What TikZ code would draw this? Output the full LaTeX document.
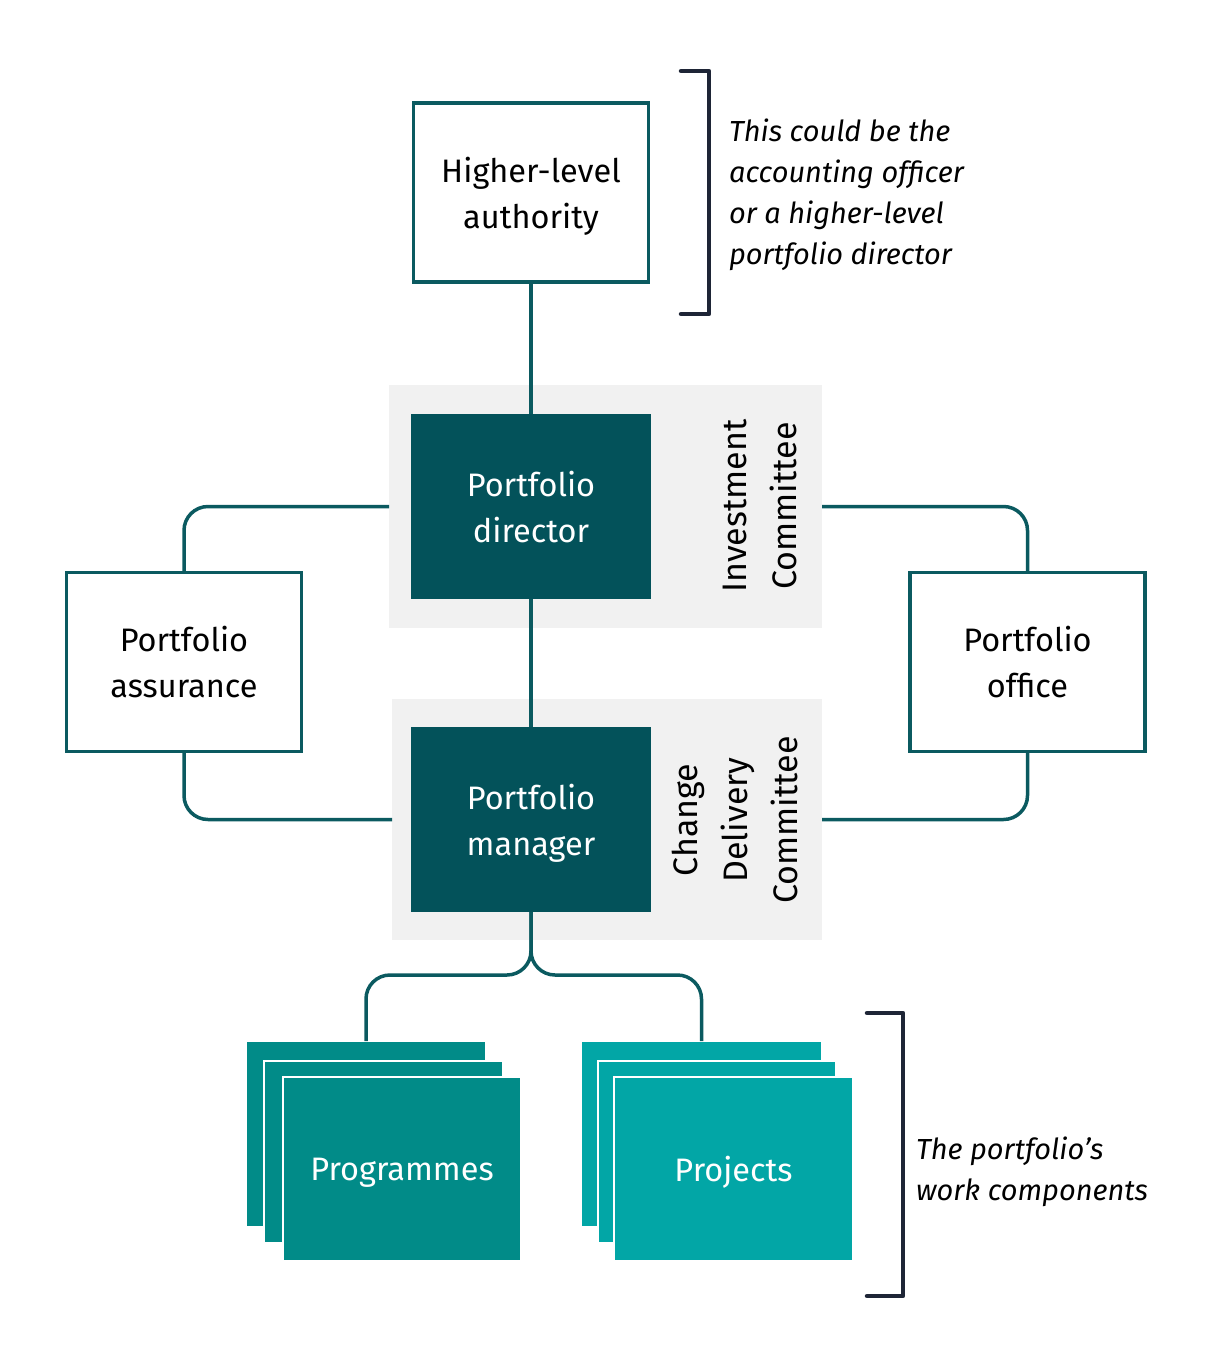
\documentclass[tikz,border=0pt]{standalone}
\usepackage{fontspec}
\setmainfont{Fira Sans}
\definecolor{dteal}{HTML}{03525A}
\definecolor{lteal}{HTML}{0B5A60}
\definecolor{panelgray}{HTML}{F1F1F1}
\definecolor{progc}{HTML}{018B88}
\definecolor{projc}{HTML}{02A6A6}
\definecolor{brk}{HTML}{1E2536}
\begin{document}
\begin{tikzpicture}[x=1pt,y=-1pt,
  every node/.style={inner sep=0pt,outer sep=0pt},
  txt/.style={font=\fontsize{32.5}{46}\selectfont, align=center, text depth=0pt},
  obox/.style={txt, draw=lteal, line width=3.5pt, fill=white, minimum width=235pt, minimum height=179pt},
  dbox/.style={txt, fill=dteal, text=white, minimum width=240pt, minimum height=185pt},
  panel/.style={fill=panelgray},
  rot/.style={txt, rotate=90, font=\fontsize{34}{50}\selectfont},
  conn/.style={draw=lteal, line width=3.5pt, rounded corners=24pt},
  card/.style={draw=white, line width=1.5pt, minimum width=240pt, minimum height=186pt},
  note/.style={font=\fontsize{29}{41}\selectfont\itshape, align=left, anchor=west},
  brack/.style={draw=brk, line width=4.5pt, line cap=round, line join=round}
]
\useasboundingbox (0,0) rectangle (1225,1365);

% panels
\node[panel, minimum width=433pt, minimum height=243pt] (invpanel) at (605.5,506.5) {};
\node[panel, minimum width=430pt, minimum height=241pt] (cdpanel) at (607,819.5) {};

% connectors
\draw[conn] (invpanel.west) -| (184,571) coordinate (assurtop);
\draw[conn] (184,753) coordinate (assurbot) |- (cdpanel.west);
\draw[conn] (invpanel.east) -| (1027.5,571) coordinate (officetop);
\draw[conn] (1027.5,753) coordinate (officebot) |- (cdpanel.east);

% boxes
\node[obox] (hla) at (531,192.5) {Higher-level\\authority};
\node[dbox] (pd) at (531,506.5) {Portfolio\\director};
\node[dbox] (pm) at (531,819.5) {Portfolio\\manager};
\node[obox] (assur) at (184,662) {Portfolio\\assurance};
\node[obox] (office) at (1027.5,662) {Portfolio\\office};

\draw[conn] (hla.south) -- (pd.north);
\draw[conn] (pd.south) -- (pm.north);

\node[rot] (invlab) at (760,506) {Investment\\Committee};
\node[rot] (cdlab) at (735,820) {Change\\Delivery\\Committee};

% stacks
\node[card, fill=progc] (prog1) at (366,1134) {};
\node[card, fill=progc, minimum width=239pt, minimum height=182pt] (prog2) at (383.5,1152) {};
\node[card, fill=progc, minimum width=238pt, minimum height=184pt, txt, text=white] (prog) at (402,1169) {Programmes};

\node[card, fill=projc] (proj1) at (701.5,1134) {};
\node[card, fill=projc, minimum width=238pt, minimum height=182pt] (proj2) at (717,1152) {};
\node[card, fill=projc, minimum width=239pt, minimum height=184pt, txt, text=white] (proj) at (733.5,1169) {Projects};

\coordinate (split) at (531,975);
\draw[conn] (pm.south) -- (split) -| (prog1.north);
\draw[conn] (pm.south) -- (split) -| (proj1.north);

% brackets
\coordinate (b1a) at (681,71);
\coordinate (b1b) at (709,71);
\coordinate (b1c) at (709,314);
\coordinate (b1d) at (681,314);
\draw[brack] (b1a) -- (b1b) -- (b1c) -- (b1d);
\coordinate (b2a) at (867,1013);
\coordinate (b2b) at (903,1013);
\coordinate (b2c) at (903,1296);
\coordinate (b2d) at (867,1296);
\draw[brack] (b2a) -- (b2b) -- (b2c) -- (b2d);

\node[note] (note1) at (729,195) {This could be the\\accounting officer\\or a higher-level\\portfolio director};
\node[note] (note2) at (916,1172) {The portfolio’s\\work components};
\end{tikzpicture}
\end{document}
